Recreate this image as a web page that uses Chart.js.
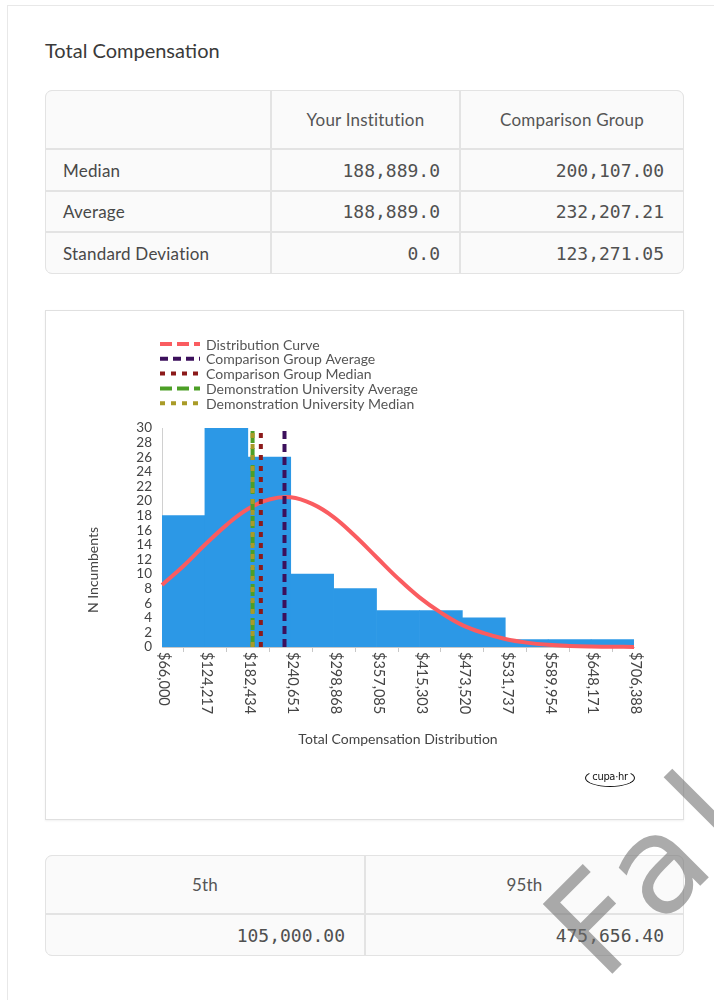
<!DOCTYPE html>
<html>
<head>
<meta charset="utf-8">
<script src="https://cdn.jsdelivr.net/npm/chart.js@4.4.1/dist/chart.umd.min.js"></script>
<style>
  body { margin: 0; background: #fff; font-family: Lato, "Open Sans", sans-serif; width: 714px; height: 1000px; overflow: hidden; position: relative; }
  #panel { position: absolute; left: 7px; top: 5px; width: 760px; height: 1100px; border-left: 1px solid #e8e8e8; border-top: 1px solid #e8e8e8; }
  h2 { position: absolute; left: 45px; top: 38px; margin: 0; font-weight: 400; font-size: 20px; color: #3a3a3a; }
  .grid { position: absolute; display: grid; background: #e3e3e3; border: 1px solid #e3e3e3; border-radius: 7px; gap: 2px; overflow: hidden; }
  .grid div { background: #fafafa; display: flex; align-items: center; font-size: 17px; letter-spacing: 0.2px; color: #484848; }
  .grid .hd { justify-content: center; color: #555; }
  .grid .lb { padding-left: 17px; }
  .grid .num { justify-content: flex-end; padding-right: 19px; font-family: "DejaVu Sans Mono", monospace; font-size: 18px; letter-spacing: 0; color: #505050; }
  #top { left: 45px; top: 90px; width: 637px; height: 182px; grid-template-columns: 224px 187px 222px; grid-template-rows: 57px 40px 39px 40px; }
  #bottom { left: 45px; top: 855px; width: 637px; height: 99px; grid-template-columns: 318px 317px; grid-template-rows: 57px 40px; }
  #card { position: absolute; left: 45px; top: 310px; width: 637px; height: 508px; border: 1px solid #e0e0e0; background: #fff; box-shadow: 0 1px 2px rgba(0,0,0,0.06); }
  #wrap { position: absolute; left: 0; top: 0; width: 637px; height: 508px; }
  #logo { position: absolute; left: 539px; top: 458px; width: 48px; height: 16px; border: 1.5px solid #111; border-top-color: transparent; border-radius: 50%; font-family: "Liberation Sans Narrow", "DejaVu Sans Condensed", sans-serif; font-size: 11px; line-height: 14px; text-align: center; color: #111; letter-spacing: -0.3px; }
  #mark { position: absolute; left: 0; top: 0; pointer-events: none; }
</style>
</head>
<body>
<div id="panel"></div>
<h2>Total Compensation</h2>

<div class="grid" id="top">
  <div></div><div class="hd">Your Institution</div><div class="hd">Comparison Group</div>
  <div class="lb">Median</div><div class="num">188,889.0</div><div class="num">200,107.00</div>
  <div class="lb">Average</div><div class="num">188,889.0</div><div class="num">232,207.21</div>
  <div class="lb">Standard Deviation</div><div class="num">0.0</div><div class="num">123,271.05</div>
</div>

<div id="card">
  <div id="wrap"><canvas id="chart"></canvas></div>
  <div id="logo">cupa·hr</div>
</div>

<div class="grid" id="bottom">
  <div class="hd">5th</div><div class="hd">95th</div>
  <div class="num">105,000.00</div><div class="num">475,656.40</div>
</div>

<svg id="mark" width="714" height="1000">
  <text x="603" y="983" transform="rotate(-45 603 983)" font-family="DejaVu Sans" font-size="135" letter-spacing="14" fill="rgba(110,110,110,0.58)">Fake</text>
</svg>

<script>
// bin edges = x tick values
const binEdges = [66000, 124217, 182434, 240651, 298868, 357085, 415303, 473520, 531737, 589954, 648171, 706388];
const tickLabels = ["$66,000", "$124,217", "$182,434", "$240,651", "$298,868", "$357,085", "$415,303", "$473,520", "$531,737", "$589,954", "$648,171", "$706,388"];
const binCounts = [18, 30, 26, 10, 8, 5, 5, 4, 1, 1, 1];

// distribution curve
const curveX = [66000, 95108, 124217, 153325, 182434, 211542, 240651, 269759, 298868, 327976, 357085, 386193, 415303, 444411, 473520, 502628, 531737, 560845, 589954, 619062, 648171, 677279, 706388, 718000];
const curveY = [8.5, 11.1, 14.0, 16.7, 18.9, 20.2, 20.5, 19.6, 17.8, 15.2, 12.3, 9.4, 6.8, 4.7, 3.0, 1.9, 1.1, 0.6, 0.3, 0.15, 0.07, 0.03, 0.01, 0.0];

const compAverage = 232207.21;
const compMedian = 200107;
const instAverage = 188889;
const instMedian = 188889;
const yMax = 30;

const lblColor = "#444";
const fontFam = "Lato, 'Open Sans', sans-serif";

// bars sit in the middle of each bin
const barData = binCounts.map((c, i) => ({ x: (binEdges[i] + binEdges[i + 1]) / 2, y: c }));
const curveData = curveX.map((x, i) => ({ x: x, y: curveY[i] }));

function vline(label, value, color, dash, order) {
    return {
        type: "line",
        label: label,
        data: [{ x: value, y: 0 }, { x: value, y: yMax }],
        borderColor: color,
        backgroundColor: color,
        borderWidth: 4,
        borderDash: dash,
        pointRadius: 0,
        fill: false,
        order: order
    }
}

// LEGEND + ROTATED LABELS (chart.js can't rotate ticks clockwise)
const extras = {
    id: "extras",
    afterDraw(chart) {
        const ctx = chart.ctx;
        const x = chart.scales.x;
        const area = chart.chartArea;
        ctx.save();
        ctx.fillStyle = lblColor;

        // x tick labels, reading top to bottom
        ctx.font = "14.5px " + fontFam;
        binEdges.forEach((v, i) => {
            const px = x.getPixelForValue(v);
            ctx.save();
            ctx.translate(px + 2, area.bottom + 5);
            ctx.rotate(Math.PI / 2);
            ctx.textAlign = "left";
            ctx.textBaseline = "middle";
            ctx.fillText(tickLabels[i], 0, 0);
            ctx.restore();
        });

        // axis titles
        ctx.font = "14px " + fontFam;
        ctx.textAlign = "center";
        ctx.textBaseline = "middle";
        ctx.fillText("Total Compensation Distribution", (area.left + area.right) / 2, 428);
        ctx.save();
        ctx.translate(47, 259);
        ctx.rotate(-Math.PI / 2);
        ctx.fillText("N Incumbents", 0, 0);
        ctx.restore();

        // legend
        ctx.textAlign = "left";
        chart.data.datasets.filter(d => d.type === "line").forEach((d, i) => {
            const y = 33 + i * 14.8;
            ctx.save();
            ctx.strokeStyle = d.borderColor;
            ctx.lineWidth = 4;
            ctx.setLineDash(d.legendDash || d.borderDash || []);
            ctx.beginPath();
            ctx.moveTo(114, y);
            ctx.lineTo(154, y);
            ctx.stroke();
            ctx.restore();
            ctx.fillStyle = "#555";
            ctx.fillText(d.label, 160, y + 1);
        });
        ctx.restore();
    }
};

const curveSet = {
    type: "line",
    label: "Distribution Curve",
    data: curveData,
    borderColor: "rgb(250,92,96)",
    backgroundColor: "rgb(250,92,96)",
    borderWidth: 4,
    legendDash: [12, 5],
    pointRadius: 0,
    tension: 0.4,
    fill: false,
    clip: false,
    order: 4
};

new Chart(document.getElementById("chart"), {
    type: "bar",
    data: {
        datasets: [
            curveSet,
            vline("Comparison Group Average", compAverage, "#3c105c", [8, 5], 3),
            vline("Comparison Group Median", compMedian, "#8c1a1a", [5, 6], 2),
            vline("Demonstration University Average", instAverage, "#4c9f26", [12, 5], 1),
            vline("Demonstration University Median", instMedian, "#a99b27", [5, 6], 0),
            {
                type: "bar",
                label: "N Incumbents",
                data: barData,
                backgroundColor: "#2c98e6",
                borderWidth: 0,
                barPercentage: 1,
                categoryPercentage: 1,
                order: 5
            }
        ]
    },
    options: {
        responsive: true,
        maintainAspectRatio: false,
        animation: false,
        layout: { padding: { top: 117, right: 49, left: 0, bottom: 0 } },
        plugins: {
            legend: { display: false },
            tooltip: { enabled: false }
        },
        scales: {
            x: {
                type: "linear",
                min: binEdges[0],
                max: binEdges[binEdges.length - 1],
                offset: false,
                afterBuildTicks: s => { s.ticks = binEdges.map(v => ({ value: v })) },
                afterFit: s => { s.height = 172 },
                ticks: { display: false },
                grid: { display: true, drawOnChartArea: false, drawTicks: true, tickLength: 5, color: "#c8c8c8" },
                border: { display: true, color: "#c8c8c8" }
            },
            y: {
                min: 0,
                max: yMax,
                afterFit: s => { s.width = 116 },
                ticks: { stepSize: 2, autoSkip: false, padding: 10, color: lblColor, font: { family: fontFam, size: 13.5 } },
                grid: { display: false, drawTicks: false },
                border: { display: true, color: "#d0d0d0" }
            }
        }
    },
    plugins: [extras]
});
</script>
</body>
</html>
